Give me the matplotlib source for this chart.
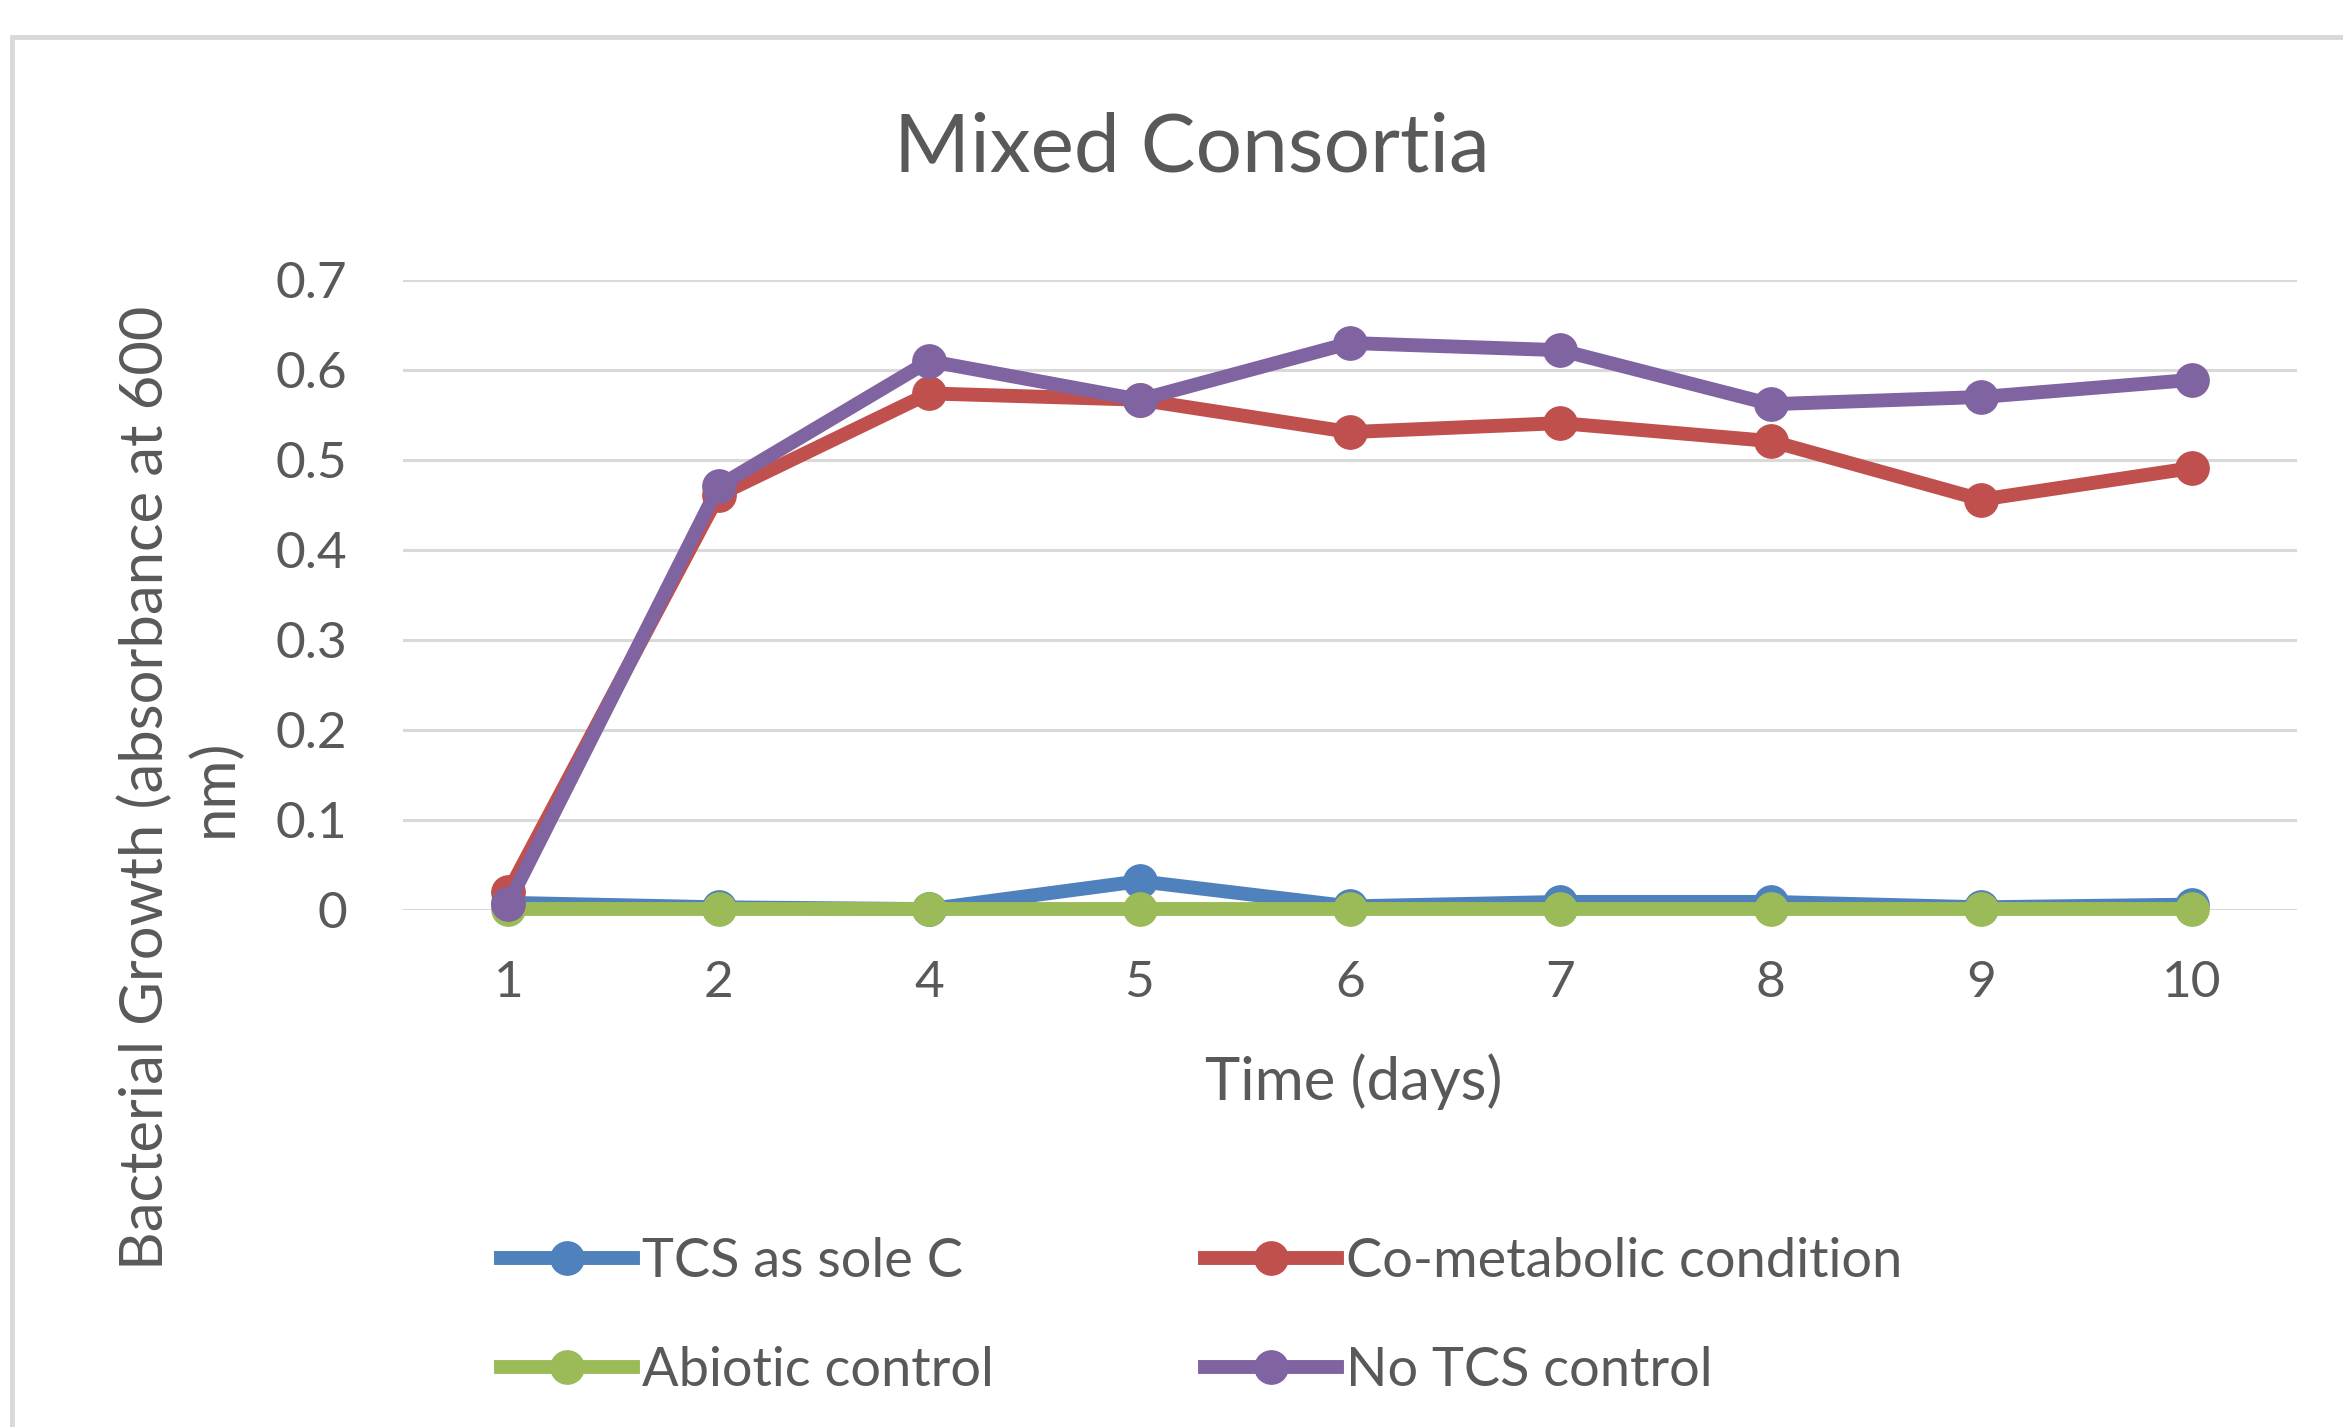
import matplotlib
matplotlib.use("Agg")
import matplotlib.pyplot as plt
from matplotlib.lines import Line2D
from matplotlib.patches import Rectangle

days = ["1", "2", "4", "5", "6", "7", "8", "9", "10"]
tcs_sole_c = [0.008, 0.003, 0.001, 0.032, 0.004, 0.009, 0.009, 0.003, 0.006]
co_metabolic = [0.020, 0.461, 0.574, 0.567, 0.531, 0.541, 0.521, 0.456, 0.491]
abiotic = [0.001, 0.001, 0.001, 0.001, 0.001, 0.001, 0.001, 0.001, 0.001]
no_tcs = [0.007, 0.471, 0.610, 0.567, 0.630, 0.622, 0.562, 0.570, 0.589]
yticks = [0, 0.1, 0.2, 0.3, 0.4, 0.5, 0.6, 0.7]
ytick_labels = ["0", "0.1", "0.2", "0.3", "0.4", "0.5", "0.6", "0.7"]

series = [
    ("TCS as sole C", tcs_sole_c, "#4F81BD"),
    ("Co-metabolic condition", co_metabolic, "#C0504D"),
    ("Abiotic control", abiotic, "#9BBB59"),
    ("No TCS control", no_tcs, "#8064A2"),
]

W, H = 2343, 1427
fig = plt.figure(figsize=(W / 100, H / 100), dpi=100)
FONT = ["Lato", "DejaVu Sans"]
TXT = "#595959"
LW, MS = 10, 24

# outer chart frame
fig.patches.append(Rectangle((12 / W, -0.1), 1.2, 1 - 37 / H + 0.1, transform=fig.transFigure,
                             fill=False, edgecolor="#d9d9d9", linewidth=3.5))

ax = fig.add_axes([403 / W, 1 - 910 / H, (2297 - 403) / W, (910 - 280) / H])
x = list(range(len(days)))
for name, vals, col in series:
    ax.plot(x, vals, color=col, linewidth=LW, marker="o", markersize=MS,
            solid_capstyle="round", clip_on=False, zorder=3, label=name)

ax.set_xlim(-0.5, len(days) - 0.5)
ax.set_ylim(0, 0.7)
ax.set_yticks(yticks)
ax.set_yticklabels(ytick_labels)
ax.set_xticks(x)
ax.set_xticklabels(days)
for s in ax.spines.values():
    s.set_visible(False)
ax.grid(axis="y", color="#d9d9d9", linewidth=2.2, zorder=0)
ax.set_axisbelow(True)
ax.tick_params(length=0, labelsize=37, labelcolor=TXT, pad=0)
ax.tick_params(axis="y", pad=40)
ax.tick_params(axis="x", pad=36)
for lab in ax.get_xticklabels() + ax.get_yticklabels():
    lab.set_family(FONT)

fig.text(1192 / W, 1 - 149 / H, "Mixed Consortia", ha="center", va="center",
         fontsize=59, color=TXT, family=FONT)
fig.text(1354 / W, 1 - 1082 / H, "Time (days)", ha="center", va="center",
         fontsize=43, color=TXT, family=FONT)
fig.text(180 / W, 1 - 788 / H, "Bacterial Growth (absorbance at 600\nnm)", ha="center",
         va="center", rotation=90, fontsize=43, color=TXT, family=FONT,
         multialignment="center", linespacing=1.3)

order = [0, 2, 1, 3]  # row-major fill for a 2-column legend
handles = [Line2D([], [], color=series[i][2], linewidth=LW, marker="o", markersize=MS) for i in order]
labels = [series[i][0] for i in order]
leg = fig.legend(handles, labels, ncol=2, loc="upper left",
                 bbox_to_anchor=(452 / W, 1 - 1188 / H), frameon=False,
                 prop={"family": FONT, "size": 39}, labelcolor=TXT,
                 handlelength=2.45, handletextpad=0.15, columnspacing=3.9,
                 labelspacing=1.12)

fig.savefig("out.png", dpi=100)
